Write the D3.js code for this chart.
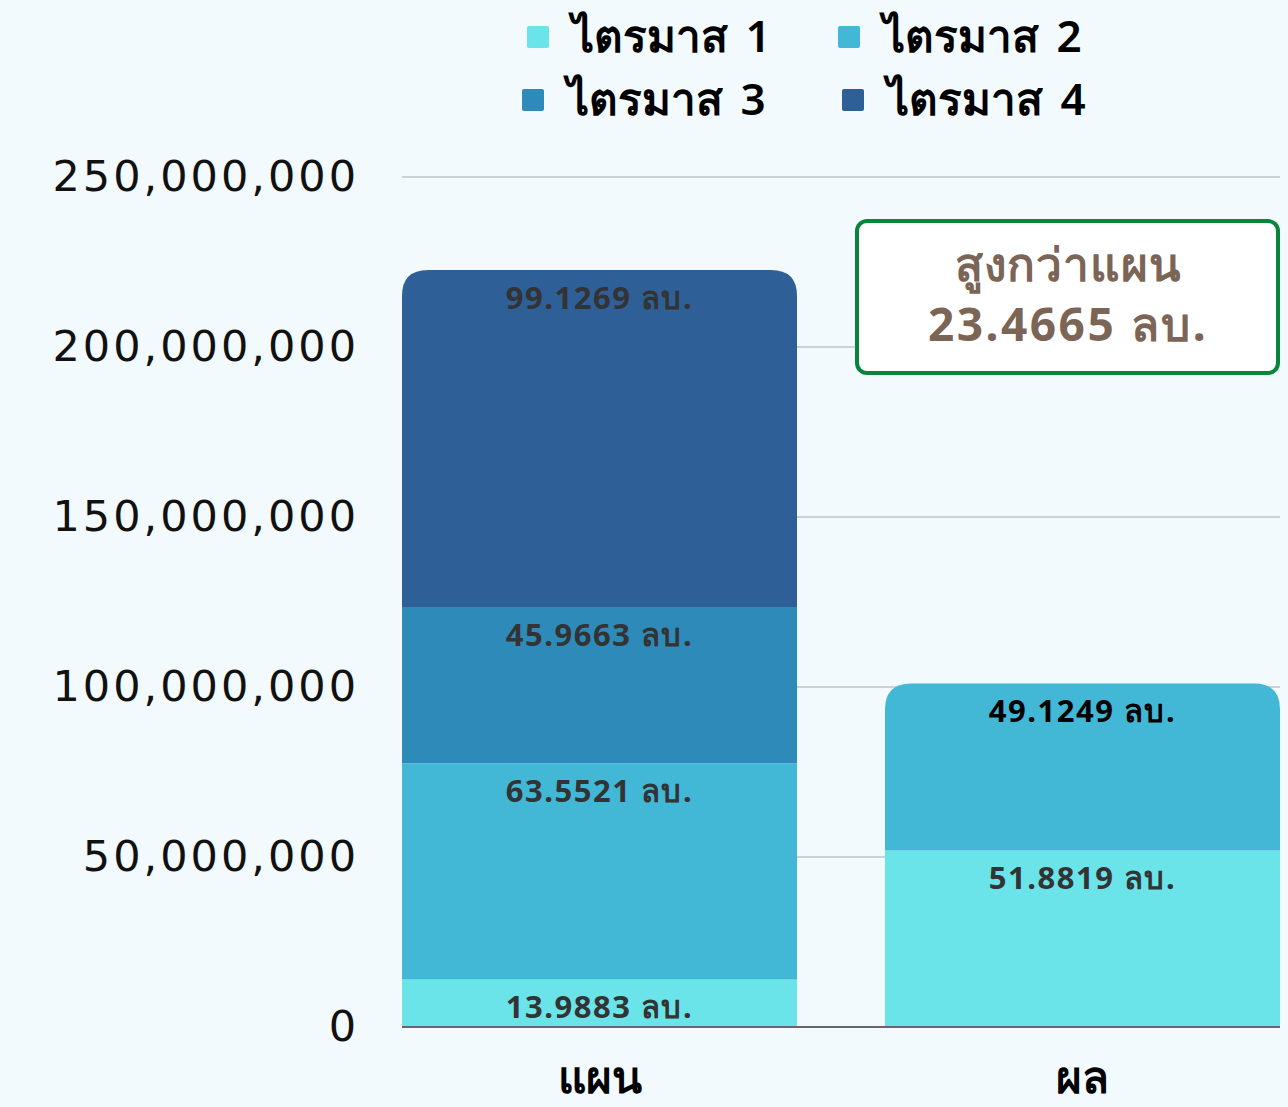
<!DOCTYPE html>
<html>
<head>
<meta charset="utf-8">
<script src="https://cdn.jsdelivr.net/npm/d3@7"></script>
<style>
  html, body { margin: 0; padding: 0; background: #f2fafd; }
  svg { display: block; font-family: "Noto Sans", "DejaVu Sans", sans-serif; }
</style>
</head>
<body>
<svg id="chart" width="1288" height="1107"></svg>
<script>
// categories and series
const categories = ["แผน", "ผล"];
const seriesNames = ["ไตรมาส 1", "ไตรมาส 2", "ไตรมาส 3", "ไตรมาส 4"];
const seriesColors = ["#6ae4e8", "#42b7d6", "#2d8ab9", "#2e5f97"];
// values in baht, per category, per quarter
const planValues = [13988300, 63552100, 45966300, 99126900];
const resultValues = [51881900, 49124900, 0, 0];
const yTicks = [0, 50000000, 100000000, 150000000, 200000000, 250000000];
const noteLines = ["สูงกว่าแผน", "23.4665 ลบ."];

const svg = d3.select("#chart");
const margin = { top: 177, right: 8, bottom: 80, left: 402 };
const width = 1288 - margin.left - margin.right;
const height = 1107 - margin.top - margin.bottom;

const g = svg.append("g").attr("transform", `translate(${margin.left},${margin.top})`);

const x = d3.scaleBand()
  .domain(categories)
  .range([0, width])
  .paddingInner(88 / 483)
  .paddingOuter(0);

const y = d3.scaleLinear().domain([0, 250000000]).range([height, 0]);

// gridlines
g.selectAll(".grid")
  .data(yTicks.slice(1))
  .enter().append("line")
  .attr("x1", 0).attr("x2", width)
  .attr("y1", d => y(d)).attr("y2", d => y(d))
  .attr("stroke", "#bfc3c6").attr("stroke-width", 1.5);

// y axis labels
const yAxis = g.append("g")
  .call(d3.axisLeft(y).tickValues(yTicks).tickFormat(d3.format(",")).tickSize(0).tickPadding(43));
yAxis.select(".domain").remove();
yAxis.selectAll("text")
  .attr("font-size", 43)
  .attr("font-family", "DejaVu Sans, sans-serif")
  .attr("letter-spacing", 3)
  .attr("fill", "#111");

// stack data
const rows = categories.map((c, i) => {
  const vals = i === 0 ? planValues : resultValues;
  const r = { cat: c };
  seriesNames.forEach((s, j) => r[s] = vals[j]);
  return r;
});
const stacked = d3.stack().keys(seriesNames)(rows);

const radius = 26;
function segPath(x0, y0, w, h, rounded) {
  if (!rounded) return `M${x0},${y0}h${w}v${h}h${-w}Z`;
  const r = Math.min(radius, h);
  return `M${x0},${y0 + h}V${y0 + r}Q${x0},${y0} ${x0 + r},${y0}H${x0 + w - r}Q${x0 + w},${y0} ${x0 + w},${y0 + r}V${y0 + h}Z`;
}

// find top segment for each category
const topKey = {};
rows.forEach(r => {
  let last = null;
  seriesNames.forEach(s => { if (r[s] > 0) last = s; });
  topKey[r.cat] = last;
});

stacked.forEach((layer, li) => {
  layer.forEach(d => {
    const v = d[1] - d[0];
    if (v <= 0) return;
    const cat = d.data.cat;
    const x0 = x(cat), w = x.bandwidth();
    const yTop = y(d[1]), h = y(d[0]) - y(d[1]);
    g.append("path")
      .attr("d", segPath(x0, yTop, w, h, topKey[cat] === layer.key))
      .attr("fill", seriesColors[li]);
    g.append("text")
      .attr("x", x0 + w / 2)
      .attr("y", yTop + 28)
      .attr("dy", "0.35em")
      .attr("text-anchor", "middle")
      .attr("font-size", 31)
      .attr("letter-spacing", 1.5)
      .attr("font-weight", "bold")
      .attr("fill", cat === "ผล" && li === 1 ? "#000" : "#333")
      .text(d3.format(".4f")(v / 1e6).replace(/0+$/, "").replace(/\.$/, "") + " ลบ.");
  });
});

// baseline
g.append("line")
  .attr("x1", 0).attr("x2", width)
  .attr("y1", y(0)).attr("y2", y(0))
  .attr("stroke", "#666").attr("stroke-width", 2);

// x axis labels
g.selectAll(".xlab")
  .data(categories)
  .enter().append("text")
  .attr("x", d => x(d) + x.bandwidth() / 2)
  .attr("y", height + 66)
  .attr("text-anchor", "middle")
  .attr("font-size", 44)
  .attr("font-weight", "bold")
  .attr("fill", "#000")
  .text(d => d);

// annotation box
const note = svg.append("g").attr("transform", "translate(857,221)");
note.append("rect")
  .attr("width", 421).attr("height", 152)
  .attr("rx", 10)
  .attr("fill", "#fff")
  .attr("stroke", "#08843b")
  .attr("stroke-width", 4);
note.selectAll("text")
  .data(noteLines)
  .enter().append("text")
  .attr("x", 211)
  .attr("y", (d, i) => 44 + i * 60)
  .attr("dy", "0.35em")
  .attr("text-anchor", "middle")
  .attr("font-size", 46)
  .attr("letter-spacing", (d, i) => i === 0 ? 1 : 2.5)
  .attr("font-weight", "bold")
  .attr("fill", "#7b6556")
  .text(d => d);

// legend
const legendPos = [[527, 37], [838, 37], [522, 100], [842, 100]];
const legend = svg.append("g");
seriesNames.forEach((s, i) => {
  const [lx, ly] = legendPos[i];
  legend.append("rect")
    .attr("x", lx).attr("y", ly - 11)
    .attr("width", 22).attr("height", 22)
    .attr("rx", 2)
    .attr("fill", seriesColors[i]);
  legend.append("text")
    .attr("x", lx + 45)
    .attr("y", ly)
    .attr("dy", "0.35em")
    .attr("font-size", 44)
    .attr("font-weight", 600)
    .attr("word-spacing", 6)
    .attr("fill", "#000")
    .text(s);
});
</script>
</body>
</html>
